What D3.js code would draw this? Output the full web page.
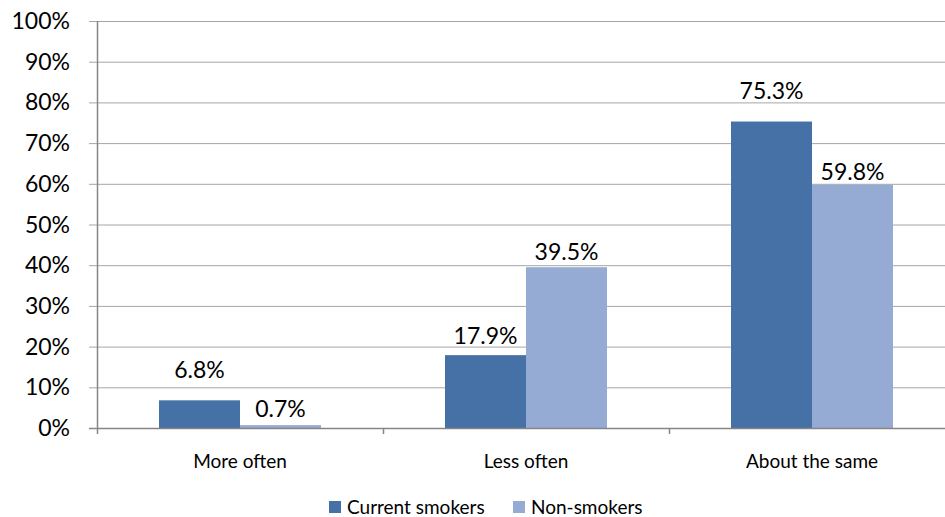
<!DOCTYPE html>
<meta charset="utf-8">
<script src="https://d3js.org/d3.v7.min.js"></script>
<style>
  body { margin: 0; background: #fff; }
  text { font-family: Lato, "Open Sans", sans-serif; fill: #000; }
</style>
<div id="my_dataviz"></div>
<script>

// data
var categories = ["More often", "Less often", "About the same"];
var seriesNames = ["Current smokers", "Non-smokers"];
var currentSmokers = [6.8, 17.9, 75.3];
var nonSmokers = [0.7, 39.5, 59.8];
var yTicks = [0, 10, 20, 30, 40, 50, 60, 70, 80, 90, 100];

// how far each value label sits above its bar (the original labels were nudged by hand)
var labelLift = [[22, 11, 23], [8, 7, 5]];

var colors = ["#4571a7", "#95abd3"];

var width = 945, height = 517;
var margin = {top: 21, left: 97, bottom: 89};
var plotRight = 955; // chart is clipped on the right in the original

var svg = d3.select("#my_dataviz")
  .append("svg")
    .attr("width", width)
    .attr("height", height);

var y = d3.scaleLinear()
  .domain([0, 100])
  .range([height - margin.bottom, margin.top]);

var x = d3.scaleBand()
  .domain(categories)
  .range([margin.left, plotRight]);

var xs = d3.scaleBand()
  .domain(seriesNames)
  .range([0, 162]);

// gridlines
svg.selectAll("grid")
  .data(yTicks.filter(function(d){ return d > 0 }))
  .enter()
  .append("line")
    .attr("x1", margin.left - 8)
    .attr("x2", plotRight)
    .attr("y1", function(d){ return y(d) + 0.5 })
    .attr("y2", function(d){ return y(d) + 0.5 })
    .attr("stroke", "#a6a6a6")
    .attr("stroke-width", 1);

// y tick labels
svg.selectAll("ylab")
  .data(yTicks)
  .enter()
  .append("text")
    .attr("x", 70)
    .attr("y", function(d){ return y(d) + 8 })
    .attr("text-anchor", "end")
    .style("font-size", "23px")
    .text(function(d){ return d + "%" });

// bars
var series = [currentSmokers, nonSmokers];
seriesNames.forEach(function(name, i) {
  var g = svg.append("g");
  g.selectAll("rect")
    .data(series[i])
    .enter()
    .append("rect")
      .attr("x", function(d, j){ return x(categories[j]) + (x.bandwidth() - 162) / 2 + xs(name) })
      .attr("y", function(d){ return y(d) })
      .attr("width", xs.bandwidth())
      .attr("height", function(d){ return y(0) - y(d) })
      .attr("fill", colors[i]);

  g.selectAll("text")
    .data(series[i])
    .enter()
    .append("text")
      .attr("x", function(d, j){ return x(categories[j]) + (x.bandwidth() - 162) / 2 + xs(name) + xs.bandwidth() / 2 })
      .attr("y", function(d, j){ return y(d) - labelLift[i][j] })
      .attr("text-anchor", "middle")
      .style("font-size", "23px")
      .text(function(d){ return d.toFixed(1) + "%" });
});

// axes lines
svg.append("line")
  .attr("x1", margin.left + 0.5).attr("x2", margin.left + 0.5)
  .attr("y1", margin.top).attr("y2", y(0) + 6)
  .attr("stroke", "#868686").attr("stroke-width", 1.5);

svg.append("line")
  .attr("x1", margin.left - 8).attr("x2", plotRight)
  .attr("y1", y(0) + 0.5).attr("y2", y(0) + 0.5)
  .attr("stroke", "#868686").attr("stroke-width", 1.5);

// category tick marks
svg.selectAll("xtick")
  .data(categories.slice(1))
  .enter()
  .append("line")
    .attr("x1", function(d){ return x(d) + 0.5 })
    .attr("x2", function(d){ return x(d) + 0.5 })
    .attr("y1", y(0))
    .attr("y2", y(0) + 6)
    .attr("stroke", "#868686").attr("stroke-width", 1.5);

// category labels
svg.selectAll("xlab")
  .data(categories)
  .enter()
  .append("text")
    .attr("x", function(d){ return x(d) + x.bandwidth() / 2 })
    .attr("y", 468)
    .attr("text-anchor", "middle")
    .style("font-size", "19px")
    .text(function(d){ return d });

// legend
var legendX = [329, 513];
var legend = svg.selectAll("legend")
  .data(seriesNames)
  .enter()
  .append("g")
    .attr("transform", function(d, i){ return "translate(" + legendX[i] + ",501)" });

legend.append("rect")
  .attr("width", 12).attr("height", 12)
  .attr("fill", function(d, i){ return colors[i] });

legend.append("text")
  .attr("x", 18)
  .attr("y", 13)
  .style("font-size", "19px")
  .text(function(d){ return d });

</script>
